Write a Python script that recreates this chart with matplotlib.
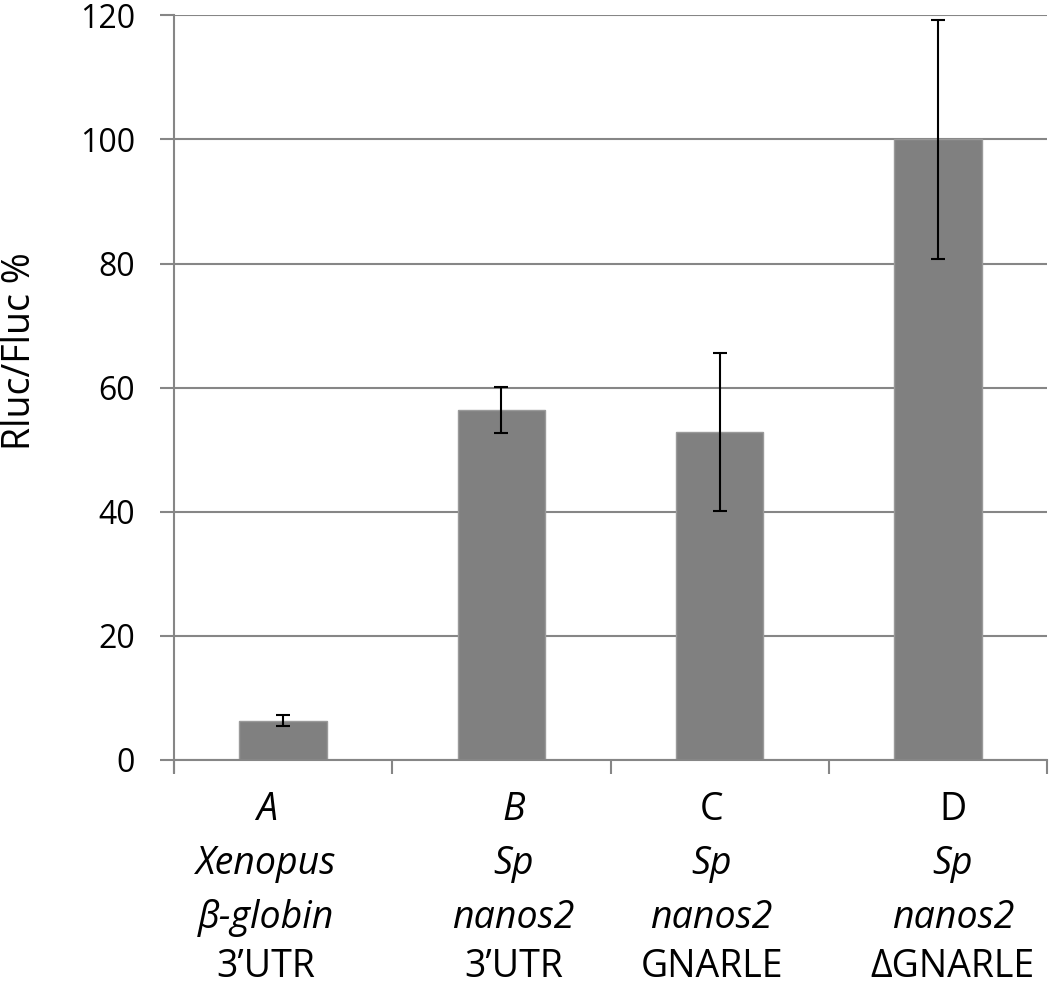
import numpy as np
import matplotlib.pyplot as plt
from matplotlib.transforms import blended_transform_factory, offset_copy

plt.rcParams["font.family"] = ["Open Sans", "DejaVu Sans"]

# data
values = [6.3, 56.4, 52.9, 100.0]
errors = [0.9, 3.7, 12.7, 19.2]
# each category label is four lines: (text, italic?)
labels = [
    [("A", True), ("Xenopus", True), ("β-globin", True), ("3’UTR", False)],
    [("B", True), ("Sp", True), ("nanos2", True), ("3’UTR", False)],
    [("C", False), ("Sp", True), ("nanos2", True), ("GNARLE", False)],
    [("D", False), ("Sp", True), ("nanos2", True), ("ΔGNARLE", False)],
]
yticks = [0, 20, 40, 60, 80, 100, 120]

GRID = "#868686"
BAR = "#808080"

fig = plt.figure(figsize=(10.5, 9.85), dpi=100)
ax = fig.add_axes([174 / 1050, 1 - 760 / 985, 873 / 1050, 744.7 / 985])

x = np.arange(len(values))
ax.bar(x, values, width=0.4, color=BAR, edgecolor="#9a9a9a", linewidth=1, zorder=2)
ax.errorbar(x, values, yerr=errors, fmt="none", ecolor="black",
            elinewidth=1.5, capsize=5, capthick=1.5, zorder=3)

ax.set_xlim(-0.5, len(values) - 0.5)
ax.set_ylim(0, 120)
ax.set_yticks(yticks)
ax.yaxis.grid(True, color=GRID, linewidth=1.5, zorder=0)
ax.set_axisbelow(True)
ax.tick_params(axis="y", length=10, width=1.5, color=GRID, pad=18, labelsize=23)

ax.set_xticks(np.arange(-0.5, len(values)))
ax.set_xticklabels([])
ax.tick_params(axis="x", length=10, width=1.5, color=GRID)

for s in ["top", "right"]:
    ax.spines[s].set_visible(False)
for s in ["left", "bottom"]:
    ax.spines[s].set_color(GRID)
    ax.spines[s].set_linewidth(1.5)
ax.spines["left"].set_bounds(-2, 120)
ax.spines["left"].set_clip_on(False)

# multi-line category labels, each line styled separately
trans = blended_transform_factory(ax.transData, fig.transFigure)
shift_px = [-17, 12, -8, 15]
baselines = [820, 874, 928, 977]
for i, lines in enumerate(labels):
    t = offset_copy(trans, fig=fig, x=shift_px[i], y=0, units="dots")
    for (txt, ital), yb in zip(lines, baselines):
        ax.text(i, 1 - yb / 985, txt, transform=t, ha="center", va="baseline",
                fontsize=27, style="italic" if ital else "normal")

fig.text(20 / 1050, 1 - 351 / 985, "Rluc/Fluc %", rotation=90,
         ha="center", va="center", fontsize=27)

fig.savefig("out.png", dpi=100)
